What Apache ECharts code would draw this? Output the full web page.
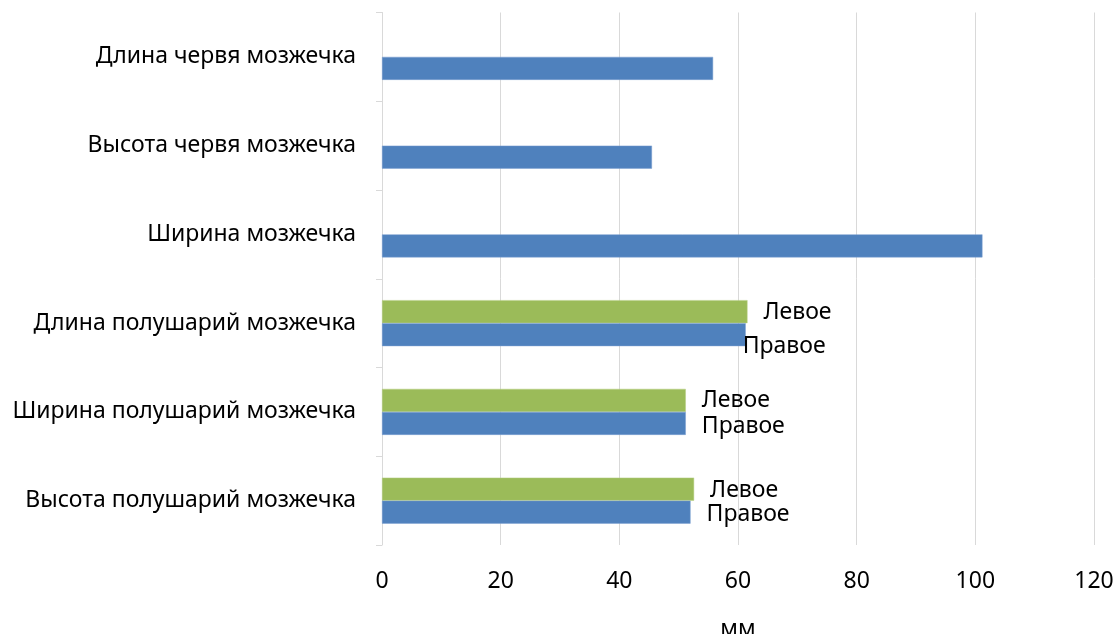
<!DOCTYPE html>
<html>
<head>
<meta charset="utf-8">
<script src="https://cdn.jsdelivr.net/npm/echarts@6/dist/echarts.min.js"></script>
<style>
html,body{margin:0;padding:0;background:#fff;}
#chart{width:1118px;height:634px;}
</style>
</head>
<body>
<div id="chart"></div>
<script>
// Categories, bottom to top
const categories = [
  'Высота полушарий мозжечка',
  'Ширина полушарий мозжечка',
  'Длина полушарий мозжечка',
  'Ширина мозжечка',
  'Высота червя мозжечка',
  'Длина червя мозжечка'
];
const rightValues = [52.0, 51.2, 61.3, 101.2, 45.5, 55.8];
const leftValues = [52.6, 51.2, 61.6, null, null, null];
const rightName = 'Правое';
const leftName = 'Левое';
const rightLabelShown = [true, true, true, false, false, false];
const leftLabelShown = [true, true, true, false, false, false];
const xTicks = [0, 20, 40, 60, 80, 100, 120];
const axisTitle = 'мм';

const FONT = '"Noto Sans", sans-serif';
const FS = 23;

function buildData(values, shown, offsets) {
  return values.map((v, i) => ({
    value: v,
    label: {
      show: shown[i],
      offset: offsets && offsets[i] ? offsets[i] : [0, 0]
    }
  }));
}

const rightOffsets = [[0, 2], [0, 3], [-19, 12], null, null, null];
const leftOffsets = [[0, 1], [0, 0], [0, 1], null, null, null];

const chart = echarts.init(document.getElementById('chart'), null, {renderer: 'canvas'});
chart.setOption({
  animation: false,
  backgroundColor: '#ffffff',
  textStyle: {fontFamily: FONT},
  grid: {left: 382, right: 24, top: 12.5, bottom: 89, containLabel: false, outerBoundsMode: 'none'},
  xAxis: {
    type: 'value',
    min: xTicks[0],
    max: xTicks[xTicks.length - 1],
    interval: xTicks[1] - xTicks[0],
    name: axisTitle,
    nameLocation: 'middle',
    nameGap: 73,
    nameTextStyle: {fontFamily: FONT, fontSize: FS, color: '#000'},
    axisLine: {show: false},
    axisTick: {show: false},
    axisLabel: {fontFamily: FONT, fontSize: FS, color: '#000', margin: 25},
    splitLine: {show: true, lineStyle: {color: '#d9d9d9', width: 1}}
  },
  yAxis: {
    type: 'category',
    data: categories,
    axisLine: {show: true, lineStyle: {color: '#d9d9d9', width: 1}},
    axisTick: {show: true, length: 6, lineStyle: {color: '#d9d9d9'}},
    axisLabel: {fontFamily: FONT, fontSize: FS, color: '#000', margin: 26},
    splitLine: {show: false}
  },
  series: [
    {
      name: leftName,
      type: 'bar',
      barWidth: 23,
      barGap: '0%',
      itemStyle: {color: '#9bbb59', borderColor: '#b6cf85', borderWidth: 0.5},
      label: {position: 'right', distance: 16, formatter: '{a}', fontFamily: FONT, fontSize: FS, color: '#000'},
      data: buildData(leftValues, leftLabelShown, leftOffsets)
    },
    {
      name: rightName,
      type: 'bar',
      barWidth: 23,
      barGap: '0%',
      itemStyle: {color: '#4f81bd', borderColor: '#7a9fd0', borderWidth: 0.5},
      label: {position: 'right', distance: 16, formatter: '{a}', fontFamily: FONT, fontSize: FS, color: '#000'},
      data: buildData(rightValues, rightLabelShown, rightOffsets)
    }
  ]
});
</script>
</body>
</html>
